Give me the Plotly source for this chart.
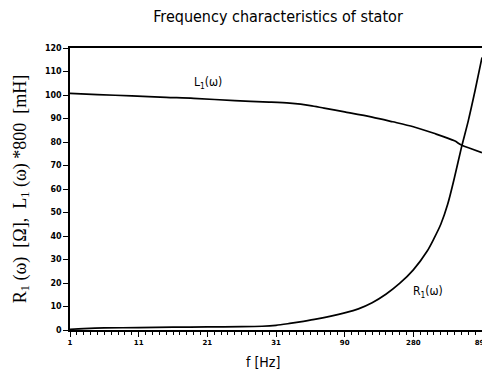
import plotly.graph_objects as go

# x axis: sample index, labelled with frequencies
tick_pos = [1, 11, 21, 31, 41, 51, 61]
tick_text = ["1", "11", "21", "31", "90", "280", "893"]

L1_idx = [1, 5, 10, 15, 19, 25, 30, 33, 36, 38, 41, 45, 48, 51, 54, 57, 58, 61]
L1_val = [100.7, 100.2, 99.6, 99.0, 98.6, 97.6, 97.0, 96.5, 95.5, 94.4, 92.8, 90.6, 88.6, 86.5, 83.7, 80.5, 78.7, 75.5]

R1_idx = [1, 3, 6, 11, 16, 21, 26, 29, 31, 33, 35, 37, 39, 41, 43, 45, 47, 49, 51, 53, 54, 55, 56, 57, 58, 59, 60, 61]
R1_val = [0.3, 0.6, 0.9, 1.0, 1.2, 1.3, 1.4, 1.6, 2.0, 2.8, 3.7, 4.7, 5.9, 7.3, 9.0, 11.6, 15.2, 19.8, 25.6, 33.5, 38.9, 45.0, 53.5, 65.0, 77.6, 89.0, 102.0, 116.0]

fig = go.Figure()
fig.add_trace(go.Scatter(x=L1_idx, y=L1_val, mode="lines", line=dict(color="black", width=1.7, shape="spline", smoothing=0.8), showlegend=False))
fig.add_trace(go.Scatter(x=R1_idx, y=R1_val, mode="lines", line=dict(color="black", width=1.7, shape="spline", smoothing=0.8), showlegend=False))

fig.add_annotation(x=21.1, y=105, text="L<sub>1</sub>(ω)", showarrow=False,
                   font=dict(family="DejaVu Sans Condensed, DejaVu Sans", size=12, color="black"))
fig.add_annotation(x=53.1, y=16.2, text="R<sub>1</sub>(ω)", showarrow=False,
                   font=dict(family="DejaVu Sans Condensed, DejaVu Sans", size=12, color="black"))
# x-axis title
fig.add_annotation(x=0.468, y=-0.113, xref="paper", yref="paper", text="f [Hz]", showarrow=False,
                   xanchor="center", yanchor="middle",
                   font=dict(family="DejaVu Sans Condensed, DejaVu Sans", size=14, color="black"))

W, H = 482, 368  # page has an 8px body margin
fig.update_layout(
    width=W, height=H,
    margin=dict(l=62, r=8, t=40, b=46, autoexpand=False),
    paper_bgcolor="white", plot_bgcolor="white",
    title=dict(text="Frequency characteristics of stator", x=(270) / W, xanchor="center",
               y=1 - 8 / H, yref="container", yanchor="middle",
               font=dict(family="DejaVu Sans Condensed, DejaVu Sans", size=16, color="black")),
    xaxis=dict(range=[1, 61], tickmode="array", tickvals=tick_pos, ticktext=tick_text, automargin=False,
               showgrid=False, zeroline=False, showline=True, linecolor="black", linewidth=1.5, mirror=True,
               ticks="outside", ticklen=5, tickcolor="black", tickwidth=1.2,
               minor=dict(dtick=1, tick0=1, ticks="outside", ticklen=3, tickcolor="black", showgrid=False),
               tickfont=dict(family="DejaVu Sans", size=7, color="black", weight="bold")),
    yaxis=dict(range=[0, 120], tickmode="array", tickvals=list(range(0, 121, 10)), automargin=False,
               showgrid=False, zeroline=False, showline=True, linecolor="black", linewidth=1.5, mirror=True,
               ticks="outside", ticklen=5, tickcolor="black", tickwidth=1.2,
               tickfont=dict(family="DejaVu Sans", size=8, color="black", weight="bold"),
               title=dict(text="R<sub>1</sub> (ω)  [Ω],  L<sub>1</sub> (ω) *800  [mH]", standoff=14,
                          font=dict(family="Liberation Serif", size=18, color="black"))),
)

fig.write_html("out.html")
